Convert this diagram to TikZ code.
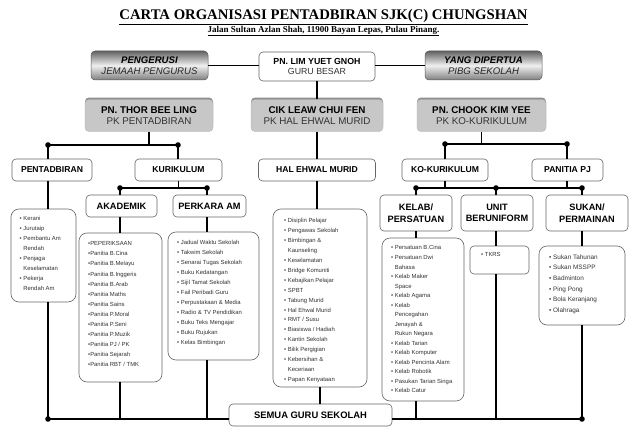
\documentclass[tikz,border=0pt]{standalone}
\usepackage{fontspec}
\setmainfont{Liberation Sans}
\newfontfamily\titlefont{Liberation Serif}
\usetikzlibrary{shadows}
\newcommand\lbul{•\ }
\newcommand\lind{\hphantom{•\ }}
\begin{document}
\begin{tikzpicture}[x=1pt,y=-1pt,
  conn/.style={line width=1.8pt, black},
  gradbox/.style={rounded corners=4pt, draw=black!65, line width=0.5pt, top color=black!62, bottom color=black!50, middle color=black!6, align=center, inner sep=0pt, font=\fontsize{9.6}{10.5}\selectfont},
  graybox/.style={rounded corners=4pt, fill=black!22, draw=black!30, line width=0.4pt, align=center, inner sep=0pt, drop shadow={shadow xshift=0pt, shadow yshift=2pt, fill=black!55, opacity=0.8}, font=\fontsize{9.8}{10.5}\selectfont},
  whitebox/.style={rounded corners=4pt, fill=white, draw=black!60, line width=0.6pt, align=center, inner sep=0pt},
  listbox/.style={rounded corners=8pt, fill=white, draw=black!60, line width=0.6pt, inner sep=0pt},
  listtext/.style={anchor=north west, inner sep=0pt, align=left, text=black!80},
]
\useasboundingbox (0,0) rectangle (640,436);

% titles
\node (title) at (323.5,17) {\titlefont\bfseries\fontsize{14.7}{16}\selectfont\underline{CARTA ORGANISASI PENTADBIRAN SJK(C) CHUNGSHAN}};
\node (sub) at (323.5,31) {\titlefont\bfseries\fontsize{9}{10}\selectfont\underline{Jalan Sultan Azlan Shah, 11900 Bayan Lepas, Pulau Pinang.}};

% top row
\node[gradbox, minimum width=117pt, minimum height=29pt] (peng) at (149.5,65.5) {\textbf{\textit{PENGERUSI}}\\\textcolor{black!85}{\textit{JEMAAH PENGURUS}}};
\node[whitebox, minimum width=116pt, minimum height=29pt, font=\fontsize{8.8}{10}\selectfont] (lim) at (317,66.5) {\textbf{PN. LIM YUET GNOH}\\\textcolor{black!80}{GURU BESAR}};
\node[gradbox, minimum width=117pt, minimum height=29pt] (yang) at (483.5,65.5) {\textbf{\textit{YANG DIPERTUA}}\\\textcolor{black!85}{\textit{PIBG SEKOLAH}}};

% second row
\node[graybox, minimum width=128pt, minimum height=32pt] (thor) at (149,115.5) {\textbf{PN. THOR BEE LING}\\\textcolor{black!80}{PK PENTADBIRAN}};
\node[graybox, minimum width=132pt, minimum height=32pt] (cik) at (317,115.5) {\textbf{CIK LEAW CHUI FEN}\\\textcolor{black!80}{PK HAL EHWAL MURID}};
\node[graybox, minimum width=129pt, minimum height=32pt] (chook) at (481.5,115.5) {\textbf{PN. CHOOK KIM YEE}\\\textcolor{black!80}{PK KO-KURIKULUM}};

% third row
\begin{scope}[every node/.append style={font=\fontsize{8.6}{10}\selectfont\bfseries}]
\node[whitebox, minimum width=80pt, minimum height=22pt] (pent) at (52,170) {PENTADBIRAN};
\node[whitebox, minimum width=87pt, minimum height=22pt] (kuri) at (178.5,170) {KURIKULUM};
\node[whitebox, minimum width=117pt, minimum height=22pt] (hal) at (317,170) {HAL EHWAL MURID};
\node[whitebox, minimum width=86pt, minimum height=22pt] (ko) at (445,170) {KO-KURIKULUM};
\node[whitebox, minimum width=71pt, minimum height=22pt] (pj) at (567.5,170) {PANITIA PJ};
\end{scope}

% fourth row
\begin{scope}[every node/.append style={font=\fontsize{9.2}{11.5}\selectfont\bfseries}]
\node[whitebox, minimum width=71pt, minimum height=22pt] (akad) at (121.5,206) {AKADEMIK};
\node[whitebox, minimum width=73pt, minimum height=22pt] (perk) at (209.5,206) {PERKARA AM};
\node[whitebox, minimum width=72pt, minimum height=36pt] (kelab) at (416,213) {KELAB/\\PERSATUAN};
\node[whitebox, minimum width=72pt, minimum height=36pt] (unit) at (497,213) {UNIT\\BERUNIFORM};
\node[whitebox, minimum width=82pt, minimum height=36pt] (sukan) at (587,213) {SUKAN/\\PERMAINAN};
\end{scope}

% list boxes
\node[listbox, minimum width=65pt, minimum height=93pt] (pentlist) at (43.5,255.5) {};
\node[listbox, minimum width=83pt, minimum height=149pt] (akadlist) at (120.5,307.5) {};
\node[listbox, minimum width=91pt, minimum height=128pt] (perklist) at (213.5,296) {};
\node[listbox, minimum width=94pt, minimum height=178pt] (hallist) at (320,298) {};
\node[listbox, minimum width=82pt, minimum height=163pt] (kelablist) at (423,319.5) {};
\node[listbox, minimum width=59pt, minimum height=28pt, rounded corners=4pt] (tkrs) at (499.5,260) {};
\node[listbox, minimum width=86pt, minimum height=79pt] (sukanlist) at (582,285.5) {};

\begin{scope}[every node/.append style={font=\fontsize{5.9}{10}\selectfont}]
\node[listtext] (pentt) at (19.5,216.5) {\lbul Kerani\\\lbul Jurutaip\\\lbul Pembantu Am\\\lind Rendah\\\lbul Penjaga\\\lind Keselamatan\\\lbul Pekerja\\\lind Rendah Am};
\node[listtext, font=\fontsize{5.9}{10.06}\selectfont] (akadt) at (88,241.5) {•PEPERIKSAAN\\•Panitia B.Cina\\•Panitia B.Melayu\\•Panitia B.Inggeris\\•Panitia B.Arab\\•Panitia Maths\\•Panitia Sains\\•Panitia P.Moral\\•Panitia P.Seni\\•Panitia P.Muzik\\•Panitia PJ / PK\\•Panitia Sejarah\\•Panitia RBT / TMK};
\node[listtext] (perkt) at (177,240.5) {\lbul Jadual Waktu Sekolah\\\lbul Takwim Sekolah\\\lbul Senarai Tugas Sekolah\\\lbul Buku Kedatangan\\\lbul Sijil Tamat Sekolah\\\lbul Fail Peribadi Guru\\\lbul Perpustakaan \& Media\\\lbul Radio \& TV Pendidikan\\\lbul Buku Teks Mengajar\\\lbul Buku Rujukan\\\lbul Kelas Bimbingan};
\node[listtext, font=\fontsize{5.9}{9.9}\selectfont] (halt) at (284,218.5) {\lbul Disiplin Pelajar\\\lbul Pengawas Sekolah\\\lbul Bimbingan \&\\\lind Kaunseling\\\lbul Keselamatan\\\lbul Bridge Komuniti\\\lbul Kebajikan Pelajar\\\lbul SPBT\\\lbul Tabung Murid\\\lbul Hal Ehwal Murid\\\lbul RMT / Susu\\\lbul Biasiswa / Hadiah\\\lbul Kantin Sekolah\\\lbul Bilik Pergigian\\\lbul Kebersihan \&\\\lind Keceriaan\\\lbul Papan Kenyataan};
\node[listtext, font=\fontsize{5.9}{9.53}\selectfont] (kelabt) at (391,245.5) {\lbul Persatuan B.Cina\\\lbul Persatuan Dwi\\\lind Bahasa\\\lbul Kelab Maker\\\lind Space\\\lbul Kelab Agama\\\lbul Kelab\\\lind Pencegahan\\\lind Jenayah \&\\\lind Rukun Negara\\\lbul Kelab Tarian\\\lbul Kelab Komputer\\\lbul Kelab Pencinta Alam\\\lbul Kelab Robotik\\\lbul Pasukan Tarian Singa\\\lbul Kelab Catur};
\node[listtext] (tkrst) at (481,252.5) {\lbul TKRS};
\node[listtext, font=\fontsize{6.4}{10.6}\selectfont] (sukant) at (549,254.5) {\lbul Sukan Tahunan\\\lbul Sukan MSSPP\\\lbul Badminton\\\lbul Ping Pong\\\lbul Bola Keranjang\\\lbul Olahraga};
\end{scope}

% bottom box
\node[whitebox, minimum width=163pt, minimum height=22pt, font=\fontsize{9.4}{11}\selectfont\bfseries] (semua) at (310.5,415) {SEMUA GURU SEKOLAH};

% junction coordinates
\coordinate (j1a) at (48,145);
\coordinate (j1b) at (178,145);
\coordinate (j2a) at (120,188);
\coordinate (j2b) at (207,188);
\coordinate (j3a) at (445,144);
\coordinate (j3b) at (567,144);
\coordinate (j4a) at (416,188);
\coordinate (j4b) at (496,188);
\coordinate (j4c) at (582,188);
\coordinate (bl) at (48,419);
\coordinate (br) at (582,419);

% connectors
\draw[conn] (peng.east) -- (peng.east -| lim.west);
\draw[conn] (yang.west) -- (yang.west -| lim.east);
\draw[conn] (lim.south) -- (cik.north);
\draw[conn] (cik.south) -- (hal.north);
\draw[conn] (hal.south) -- (hal.south |- hallist.north);
\draw[conn] (hallist.south) -- (hallist.south |- semua.north);

\draw[conn] (thor.south) -- (thor.south |- j1a);
\draw[conn] (j1a) -- (j1b);
\draw[conn] (j1a) -- (j1a |- pent.north);
\draw[conn] (j1b) -- (j1b |- kuri.north);
\draw[conn] (j1a |- pent.south) -- (j1a |- pentlist.north);
\draw[conn] (j1a |- pentlist.south) -- (bl);

\draw[conn] (kuri.south) -- (kuri.south |- j2a);
\draw[conn] (j2a) -- (j2b);
\draw[conn] (j2a) -- (j2a |- akad.north);
\draw[conn] (j2b) -- (j2b |- perk.north);
\draw[conn] (j2a |- akad.south) -- (j2a |- akadlist.north);
\draw[conn] (j2b |- perk.south) -- (j2b |- perklist.north);
\draw[conn] (j2a |- akadlist.south) -- (j2a |- bl);
\draw[conn] (j2b |- perklist.south) -- (j2b |- bl);

\draw[conn] (chook.south) -- (chook.south |- j3a);
\draw[conn] (j3a) -- (j3b);
\draw[conn] (j3a) -- (j3a |- ko.north);
\draw[conn] (j3b) -- (j3b |- pj.north);
\draw[conn] (j3a |- ko.south) -- (j3a |- j4a);
\draw[conn] (j3b |- pj.south) -- (j3b |- j4a);
\draw[conn] (j4a) -- (j4c);
\draw[conn] (j4a) -- (j4a |- kelab.north);
\draw[conn] (j4b) -- (j4b |- unit.north);
\draw[conn] (j4c) -- (j4c |- sukan.north);
\draw[conn] (j4a |- kelab.south) -- (j4a |- kelablist.north);
\draw[conn] (j4b |- unit.south) -- (j4b |- tkrs.north);
\draw[conn] (j4c |- sukan.south) -- (j4c |- sukanlist.north);
\draw[conn] (j4a |- kelablist.south) -- (j4a |- bl);
\draw[conn] (j4b |- tkrs.south) -- (j4b |- bl);
\draw[conn] (j4c |- sukanlist.south) -- (br);

\draw[conn] (bl) -- (bl -| semua.west);
\draw[conn] (semua.east |- br) -- (br);

% junction dots
\foreach \p in {j1a,j1b,j2a,j2b,j3a,j3b,j4a,j4b,j4c,bl,br}
  \fill (\p) circle (2.8pt);
\end{tikzpicture}
\end{document}
